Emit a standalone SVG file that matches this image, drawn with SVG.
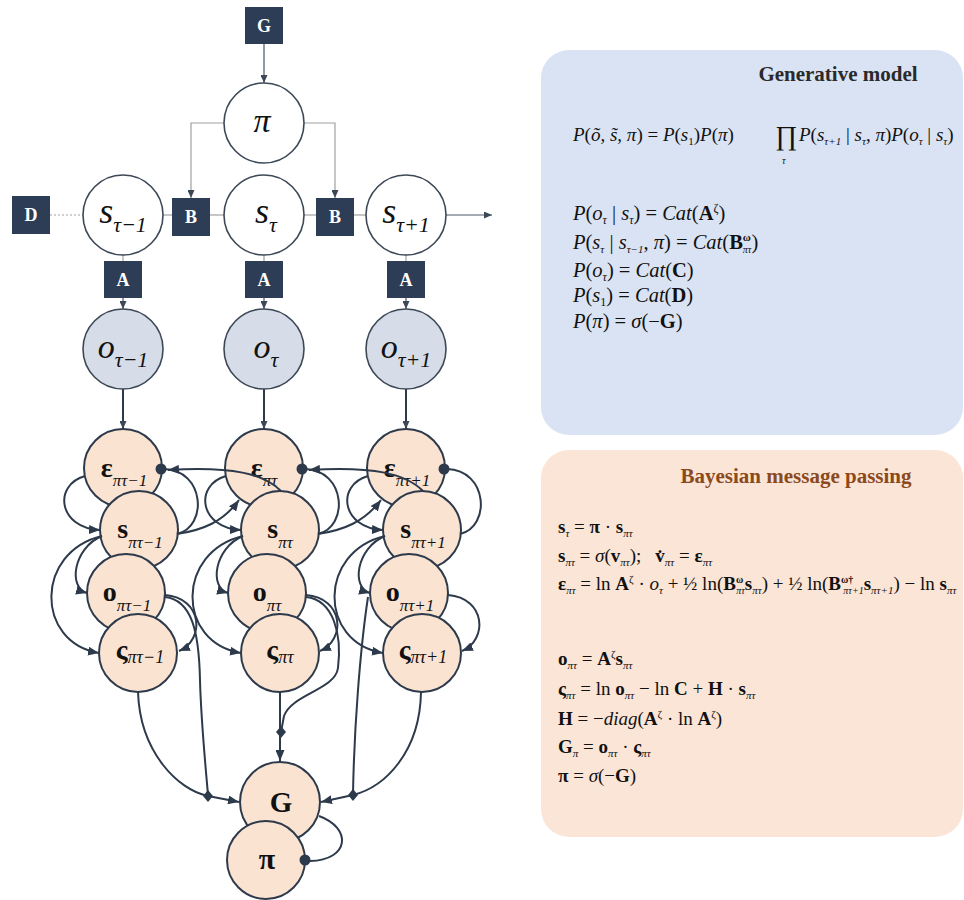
<svg xmlns="http://www.w3.org/2000/svg" width="964" height="900" viewBox="0 0 964 900">
<style>
.sq{fill:#2c3d55}
.sqt{fill:#fff;font-family:"Liberation Serif","Times New Roman",serif;font-weight:bold;font-size:18px;text-anchor:middle}
.wn{fill:#fff;stroke:#3d4857;stroke-width:1.6}
.on{fill:#d6dde8;stroke:#3d4857;stroke-width:1.6}
.mn{fill:#fbe3d2;stroke:#2d3a4b;stroke-width:2}
.thin{fill:none;stroke:#a0a0a0;stroke-width:1.2}
.dk{fill:none;stroke:#4a5566;stroke-width:1.2}
.mp{fill:none;stroke:#2d3a4b;stroke-width:2}
.lab{font-family:"Liberation Serif","Times New Roman",serif;fill:#111;text-anchor:middle}
.eq{font-family:"Liberation Serif","Times New Roman",serif;font-size:19px;fill:#111}
.eqg{font-family:"Liberation Serif","Times New Roman",serif;font-size:20.5px;fill:#111}
.i{font-style:italic}
.b{font-weight:bold}
.dot{fill:#2d3a4b}
</style>
<defs>
<marker id="ah" viewBox="0 0 11 9" refX="11" refY="4.5" markerWidth="11" markerHeight="9" markerUnits="userSpaceOnUse" orient="auto"><path d="M0,0 L11,4.5 L0,9 z" fill="#2d3a4b"/></marker>
<marker id="ahs" viewBox="0 0 8 7" refX="8" refY="3.5" markerWidth="8" markerHeight="7" markerUnits="userSpaceOnUse" orient="auto"><path d="M0,0 L8,3.5 L0,7 z" fill="#3d4857"/></marker>
</defs>

<!-- right panels -->
<g id="panel-generative">
<rect x="541" y="50" width="422" height="385" rx="28" fill="#dae3f3"/>
<text x="838" y="81" font-family="Liberation Serif,Times New Roman,serif" font-weight="bold" font-size="21" fill="#2a2a2a" text-anchor="middle">Generative model</text>
<text class="eq" x="573" y="141" font-size="19.5"><tspan class="i">P</tspan>(<tspan class="i">õ</tspan>, <tspan class="i">s̃</tspan>, <tspan class="i">π</tspan>) = <tspan class="i">P</tspan>(<tspan class="i">s</tspan><tspan font-size="11" dy="4">1</tspan><tspan dy="-4">)</tspan><tspan class="i">P</tspan>(<tspan class="i">π</tspan>)</text>
<text x="775" y="145" font-family="Liberation Serif,DejaVu Serif,serif" font-size="27" fill="#111">∏</text>
<text x="782" y="164" font-family="Liberation Serif,Times New Roman,serif" font-style="italic" font-size="10" fill="#111">τ</text>
<text class="eq" x="799" y="141"><tspan class="i">P</tspan>(<tspan class="i">s</tspan><tspan class="i" font-size="11" dy="4">τ+1</tspan><tspan dy="-4"> | </tspan><tspan class="i">s</tspan><tspan class="i" font-size="11" dy="4">τ</tspan><tspan dy="-4">, </tspan><tspan class="i">π</tspan>)<tspan class="i">P</tspan>(<tspan class="i">o</tspan><tspan class="i" font-size="11" dy="4">τ</tspan><tspan dy="-4"> | </tspan><tspan class="i">s</tspan><tspan class="i" font-size="11" dy="4">τ</tspan><tspan dy="-4">)</tspan></text>
<text class="eqg" x="573" y="220"><tspan class="i">P</tspan>(<tspan class="i">o</tspan><tspan class="i" font-size="12" dy="4">τ</tspan><tspan dy="-4"> | </tspan><tspan class="i">s</tspan><tspan class="i" font-size="12" dy="4">τ</tspan><tspan dy="-4">) = </tspan><tspan class="i">Cat</tspan>(<tspan class="b">A</tspan><tspan font-size="12" dy="-8">ζ</tspan><tspan dy="8">)</tspan></text>
<text class="eqg" x="573" y="249"><tspan class="i">P</tspan>(<tspan class="i">s</tspan><tspan class="i" font-size="11" dy="4">τ</tspan><tspan dy="-4"> | </tspan><tspan class="i">s</tspan><tspan class="i" font-size="11" dy="4">τ−1</tspan><tspan dy="-4">, </tspan><tspan class="i">π</tspan>) = <tspan class="i">Cat</tspan>(<tspan class="b">B</tspan><tspan class="b" font-size="11" dy="-8">ω</tspan><tspan class="i" font-size="10" dx="-8" dy="12">πτ</tspan><tspan dy="-4">)</tspan></text>
<text class="eqg" x="573" y="277"><tspan class="i">P</tspan>(<tspan class="i">o</tspan><tspan class="i" font-size="12" dy="4">τ</tspan><tspan dy="-4">) = </tspan><tspan class="i">Cat</tspan>(<tspan class="b">C</tspan>)</text>
<text class="eqg" x="573" y="302"><tspan class="i">P</tspan>(<tspan class="i">s</tspan><tspan font-size="12" dy="4">1</tspan><tspan dy="-4">) = </tspan><tspan class="i">Cat</tspan>(<tspan class="b">D</tspan>)</text>
<text class="eqg" x="573" y="328"><tspan class="i">P</tspan>(<tspan class="i">π</tspan>) = <tspan class="i">σ</tspan>(−<tspan class="b">G</tspan>)</text>
</g>

<g id="panel-bayesian">
<rect x="541" y="450" width="422" height="387" rx="28" fill="#fbe5d6"/>
<text x="796" y="483" font-family="Liberation Serif,Times New Roman,serif" font-weight="bold" font-size="21" fill="#8b4a1e" text-anchor="middle">Bayesian message passing</text>
<text class="eq" x="558" y="533"><tspan class="b">s</tspan><tspan class="i" font-size="11" dy="4">τ</tspan><tspan dy="-4"> = </tspan><tspan class="b">π</tspan> · <tspan class="b">s</tspan><tspan class="i" font-size="11" dy="4">πτ</tspan></text>
<text class="eq" x="558" y="562"><tspan class="b">s</tspan><tspan class="i" font-size="11" dy="4">πτ</tspan><tspan dy="-4"> = </tspan><tspan class="i">σ</tspan>(<tspan class="b">v</tspan><tspan class="i" font-size="11" dy="4">πτ</tspan><tspan dy="-4">);</tspan><tspan class="b" dx="14">v̇</tspan><tspan class="i" font-size="11" dy="4">πτ</tspan><tspan dy="-4"> = </tspan><tspan class="b">ε</tspan><tspan class="i" font-size="11" dy="4">πτ</tspan></text>
<text class="eq" x="558" y="590" font-size="18.7"><tspan class="b">ε</tspan><tspan class="i" font-size="11" dy="4">πτ</tspan><tspan dy="-4"> = ln </tspan><tspan class="b">A</tspan><tspan font-size="11" dy="-7">ζ</tspan><tspan dy="7"> · </tspan><tspan class="i">o</tspan><tspan class="i" font-size="11" dy="4">τ</tspan><tspan dy="-4"> + ½ ln(</tspan><tspan class="b">B</tspan><tspan class="b" font-size="10" dy="-7">ω</tspan><tspan class="i" font-size="10" dx="-7" dy="11">πτ</tspan><tspan class="b" dy="-4">s</tspan><tspan class="i" font-size="11" dy="4">πτ</tspan><tspan dy="-4">) + ½ ln(</tspan><tspan class="b">B</tspan><tspan class="b" font-size="10" dy="-7">ω†</tspan><tspan class="i" font-size="10" dx="-10" dy="11">πτ+1</tspan><tspan class="b" dy="-4">s</tspan><tspan class="i" font-size="11" dy="4">πτ+1</tspan><tspan dy="-4">) − ln </tspan><tspan class="b">s</tspan><tspan class="i" font-size="11" dy="4">πτ</tspan></text>
<text class="eq" x="558" y="665"><tspan class="b">o</tspan><tspan class="i" font-size="11" dy="4">πτ</tspan><tspan dy="-4"> = </tspan><tspan class="b">A</tspan><tspan font-size="11" dy="-7">ζ</tspan><tspan class="b" dy="7">s</tspan><tspan class="i" font-size="11" dy="4">πτ</tspan></text>
<text class="eq" x="558" y="695"><tspan class="b">ς</tspan><tspan class="i" font-size="11" dy="4">πτ</tspan><tspan dy="-4"> = ln </tspan><tspan class="b">o</tspan><tspan class="i" font-size="11" dy="4">πτ</tspan><tspan dy="-4"> − ln </tspan><tspan class="b">C</tspan> + <tspan class="b">H</tspan> · <tspan class="b">s</tspan><tspan class="i" font-size="11" dy="4">πτ</tspan></text>
<text class="eq" x="558" y="725"><tspan class="b">H</tspan> = −<tspan class="i">diag</tspan>(<tspan class="b">A</tspan><tspan font-size="11" dy="-7">ζ</tspan><tspan dy="7"> · ln </tspan><tspan class="b">A</tspan><tspan font-size="11" dy="-7">ζ</tspan><tspan dy="7">)</tspan></text>
<text class="eq" x="558" y="753"><tspan class="b">G</tspan><tspan class="i" font-size="11" dy="4">π</tspan><tspan dy="-4"> = </tspan><tspan class="b">o</tspan><tspan class="i" font-size="11" dy="4">πτ</tspan><tspan dy="-4"> · </tspan><tspan class="b">ς</tspan><tspan class="i" font-size="11" dy="4">πτ</tspan></text>
<text class="eq" x="558" y="782"><tspan class="b">π</tspan> = <tspan class="i">σ</tspan>(−<tspan class="b">G</tspan>)</text>
</g>

<!-- top generative graph connectors -->
<g id="connectors-top">
<line class="dk" x1="264" y1="44" x2="264" y2="83" marker-end="url(#ahs)"/>
<polyline class="thin" points="224,123 191,123 191,198" marker-end="url(#ahs)"/>
<polyline class="thin" points="304,123 335,123 335,198" marker-end="url(#ahs)"/>
<line x1="50" y1="215" x2="83" y2="215" stroke="#a0a0a0" stroke-width="1.2" stroke-dasharray="2,2"/>
<line class="thin" x1="163" y1="215" x2="172" y2="215"/>
<line class="thin" x1="210" y1="215" x2="224" y2="215"/>
<line class="thin" x1="304" y1="215" x2="316" y2="215"/>
<line class="thin" x1="354" y1="215" x2="366" y2="215"/>
<line class="dk" x1="446" y1="215" x2="492" y2="215" marker-end="url(#ahs)"/>
<line class="thin" x1="123" y1="255" x2="123" y2="261"/>
<line class="thin" x1="264" y1="255" x2="264" y2="261"/>
<line class="thin" x1="406" y1="255" x2="406" y2="261"/>
<line class="dk" x1="123" y1="298" x2="123" y2="309" marker-end="url(#ahs)"/>
<line class="dk" x1="264" y1="298" x2="264" y2="309" marker-end="url(#ahs)"/>
<line class="dk" x1="406" y1="298" x2="406" y2="309" marker-end="url(#ahs)"/>
<line class="mp" x1="123" y1="388" x2="123" y2="429" marker-end="url(#ahs)"/>
<line class="mp" x1="264" y1="388" x2="264" y2="429" marker-end="url(#ahs)"/>
<line class="mp" x1="406" y1="388" x2="406" y2="429" marker-end="url(#ahs)"/>
</g>

<!-- top nodes -->
<g id="node-G-box"><rect class="sq" x="245" y="7" width="38" height="37"/><text class="sqt" x="264" y="32">G</text></g>
<g id="node-pi"><circle class="wn" cx="264" cy="123" r="40"/><text class="lab" x="262" y="132" font-size="34" font-style="italic">π</text></g>
<g id="node-D"><rect class="sq" x="12" y="196" width="38" height="38"/><text class="sqt" x="31" y="221">D</text></g>
<g id="node-s-prev"><circle class="wn" cx="123" cy="215" r="40"/><text class="lab" x="123" y="223" font-style="italic"><tspan font-size="36">s</tspan><tspan font-size="22" dy="9">τ−1</tspan></text></g>
<g id="node-B1"><rect class="sq" x="172" y="198" width="38" height="38"/><text class="sqt" x="191" y="223">B</text></g>
<g id="node-s"><circle class="wn" cx="264" cy="215" r="40"/><text class="lab" x="266" y="223" font-style="italic"><tspan font-size="36">s</tspan><tspan font-size="22" dy="9">τ</tspan></text></g>
<g id="node-B2"><rect class="sq" x="316" y="198" width="38" height="38"/><text class="sqt" x="335" y="223">B</text></g>
<g id="node-s-next"><circle class="wn" cx="406" cy="215" r="40"/><text class="lab" x="406" y="223" font-style="italic"><tspan font-size="36">s</tspan><tspan font-size="22" dy="9">τ+1</tspan></text></g>
<g id="node-A1"><rect class="sq" x="104" y="261" width="38" height="37"/><text class="sqt" x="123" y="286">A</text></g>
<g id="node-A2"><rect class="sq" x="245" y="261" width="38" height="37"/><text class="sqt" x="264" y="286">A</text></g>
<g id="node-A3"><rect class="sq" x="387" y="261" width="38" height="37"/><text class="sqt" x="406" y="286">A</text></g>
<g id="node-o-prev"><circle class="on" cx="123" cy="349" r="40"/><text class="lab" x="123" y="358" font-style="italic"><tspan font-size="34">o</tspan><tspan font-size="22" dy="9">τ−1</tspan></text></g>
<g id="node-o"><circle class="on" cx="264" cy="349" r="40"/><text class="lab" x="266" y="358" font-style="italic"><tspan font-size="34">o</tspan><tspan font-size="22" dy="9">τ</tspan></text></g>
<g id="node-o-next"><circle class="on" cx="406" cy="349" r="40"/><text class="lab" x="406" y="358" font-style="italic"><tspan font-size="34">o</tspan><tspan font-size="22" dy="9">τ+1</tspan></text></g>

<!-- message passing nodes -->
<g id="node-eps-prev"><circle class="mn" cx="123" cy="468" r="39"/><text class="lab" x="124" y="477"><tspan class="b" font-size="28">ε</tspan><tspan class="i" font-size="17" dy="9">πτ−1</tspan></text></g>
<g id="node-eps"><circle class="mn" cx="264" cy="468" r="39"/><text class="lab" x="264" y="477"><tspan class="b" font-size="28">ε</tspan><tspan class="i" font-size="17" dy="9">πτ</tspan></text></g>
<g id="node-eps-next"><circle class="mn" cx="406" cy="468" r="39"/><text class="lab" x="407" y="477"><tspan class="b" font-size="28">ε</tspan><tspan class="i" font-size="17" dy="9">πτ+1</tspan></text></g>
<g id="node-spi-prev"><circle class="mn" cx="139" cy="530" r="39"/><text class="lab" x="140" y="538"><tspan class="b" font-size="28">s</tspan><tspan class="i" font-size="17" dy="10">πτ−1</tspan></text></g>
<g id="node-spi"><circle class="mn" cx="280" cy="530" r="39"/><text class="lab" x="280" y="538"><tspan class="b" font-size="28">s</tspan><tspan class="i" font-size="17" dy="10">πτ</tspan></text></g>
<g id="node-spi-next"><circle class="mn" cx="422" cy="530" r="39"/><text class="lab" x="423" y="538"><tspan class="b" font-size="28">s</tspan><tspan class="i" font-size="17" dy="10">πτ+1</tspan></text></g>
<g id="node-opi-prev"><circle class="mn" cx="126" cy="593" r="39"/><text class="lab" x="127" y="601"><tspan class="b" font-size="28">o</tspan><tspan class="i" font-size="17" dy="10">πτ−1</tspan></text></g>
<g id="node-opi"><circle class="mn" cx="267" cy="593" r="39"/><text class="lab" x="267" y="601"><tspan class="b" font-size="28">o</tspan><tspan class="i" font-size="17" dy="10">πτ</tspan></text></g>
<g id="node-opi-next"><circle class="mn" cx="409" cy="593" r="39"/><text class="lab" x="410" y="601"><tspan class="b" font-size="28">o</tspan><tspan class="i" font-size="17" dy="10">πτ+1</tspan></text></g>
<g id="node-vs-prev"><circle class="mn" cx="138" cy="653" r="39"/><text class="lab" x="140" y="659"><tspan class="b" font-size="28">ς</tspan><tspan class="i" font-size="18" dy="4">πτ−1</tspan></text></g>
<g id="node-vs"><circle class="mn" cx="280" cy="653" r="39"/><text class="lab" x="280" y="659"><tspan class="b" font-size="28">ς</tspan><tspan class="i" font-size="18" dy="4">πτ</tspan></text></g>
<g id="node-vs-next"><circle class="mn" cx="422" cy="653" r="39"/><text class="lab" x="423" y="659"><tspan class="b" font-size="28">ς</tspan><tspan class="i" font-size="18" dy="4">πτ+1</tspan></text></g>
<g id="node-G"><circle class="mn" cx="280" cy="802" r="40"/><text class="lab b" x="281" y="812" font-size="29">G</text></g>
<g id="node-pi-bottom"><circle class="mn" cx="266" cy="860" r="39"/><text class="lab b" x="267" y="869" font-size="30">π</text></g>

<!-- message passing connectors -->
<g id="connectors-message">
<path class="mp" d="M85,476 C53,485 58,528 100,530" marker-end="url(#ah)"/>
<path class="mp" d="M177,534 C208,527 205,470 164,469"/>
<path class="mp" d="M102,536 C73,548 68,588 87,593" marker-end="url(#ah)"/>
<path class="mp" d="M102,536 C35,552 35,642 99,653" marker-end="url(#ah)"/>
<path class="mp" d="M165,595 C203,598 205,640 179,651" marker-end="url(#ah)"/>
<path class="mp" d="M177,534 C203,530 223,522 239,500" marker-end="url(#ah)"/>
<path class="mp" d="M226,476 C194,485 199,528 241,530" marker-end="url(#ah)"/>
<path class="mp" d="M318,534 C349,527 346,470 305,469"/>
<path class="mp" d="M243,536 C214,548 209,588 228,593" marker-end="url(#ah)"/>
<path class="mp" d="M243,536 C176,552 176,642 241,653" marker-end="url(#ah)"/>
<path class="mp" d="M306,595 C344,598 346,640 320,651" marker-end="url(#ah)"/>
<path class="mp" d="M318,534 C344,530 364,522 381,500" marker-end="url(#ah)"/>
<path class="mp" d="M281,491 C264,474 233,466 168,470" marker-end="url(#ah)"/>
<path class="mp" d="M368,476 C336,485 341,528 383,530" marker-end="url(#ah)"/>
<path class="mp" d="M460,534 C491,527 488,470 447,469"/>
<path class="mp" d="M385,536 C356,548 351,588 370,593" marker-end="url(#ah)"/>
<path class="mp" d="M385,536 C318,552 318,642 383,653" marker-end="url(#ah)"/>
<path class="mp" d="M448,595 C486,598 488,640 462,651" marker-end="url(#ah)"/>
<path class="mp" d="M423,491 C406,474 375,466 309,470" marker-end="url(#ah)"/>
<path class="mp" d="M165,597 C192,600 199,632 200,680 C201,720 205,760 208,795"/>
<path class="mp" d="M138,692 C140,752 178,790 208,796 L239,802" marker-end="url(#ah)"/>
<path class="mp" d="M280,692 L280,761" marker-end="url(#ah)"/>
<path class="mp" d="M306,597 C334,600 342,635 338,668 C335,690 292,694 284,716 L281,732"/>
<path class="mp" d="M368,597 C360,650 354,730 353,795"/>
<path class="mp" d="M421,692 C420,752 385,787 353,795 L321,802" marker-end="url(#ah)"/>
<path class="mp" d="M319,816 C352,828 350,860 310,861"/>
<circle class="dot" cx="161" cy="469" r="5.5"/>
<circle class="dot" cx="302" cy="469" r="5.5"/>
<circle class="dot" cx="444" cy="469" r="5.5"/>
<circle class="dot" cx="305" cy="860" r="5.5"/>
<path class="dot" d="M208,790 L213,796 L208,802 L203,796 z"/>
<path class="dot" d="M281,726 L286,732 L281,738 L276,732 z"/>
<path class="dot" d="M353,789 L358,795 L353,801 L348,795 z"/>
</g>
</svg>
